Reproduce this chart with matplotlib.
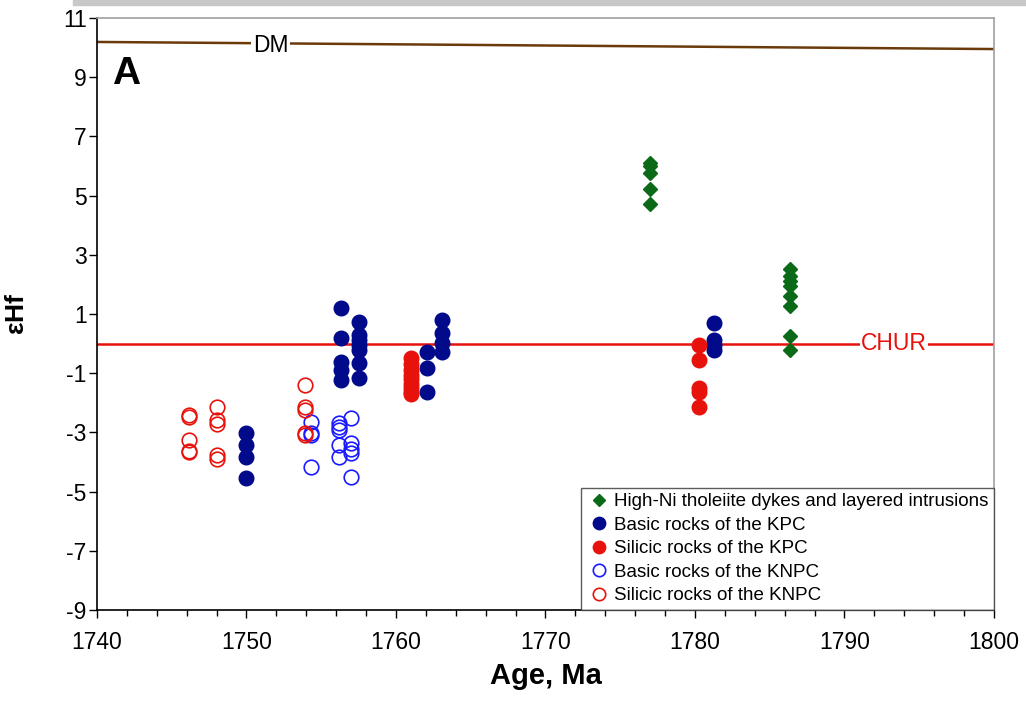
import matplotlib
matplotlib.use("Agg")
import matplotlib.pyplot as plt
from matplotlib.patches import Rectangle
from matplotlib.ticker import MultipleLocator

plt.rcParams['font.family'] = ['Liberation Sans', 'DejaVu Sans']
plt.rcParams['axes.unicode_minus'] = False

# ---- data ----
hini_age = [1777.0, 1777.0, 1777.0, 1777.0, 1777.0,
            1786.35, 1786.35, 1786.35, 1786.35, 1786.35, 1786.35, 1786.35, 1786.35]
hini_ehf = [6.09, 6.0, 5.77, 5.22, 4.71,
            2.51, 2.28, 2.11, 1.93, 1.62, 1.27, 0.27, -0.22]

bkpc_age = [1750.0, 1750.0, 1750.0, 1750.0,
            1756.35, 1756.35, 1756.35, 1756.35, 1756.35,
            1757.5, 1757.5, 1757.5, 1757.5, 1757.5, 1757.5, 1757.5,
            1762.05, 1762.05, 1762.05,
            1763.1, 1763.1, 1763.1, 1763.1,
            1781.3, 1781.3, 1781.3, 1781.3]
bkpc_ehf = [-3.03, -3.43, -3.82, -4.55,
            1.19, 0.18, -0.61, -0.89, -1.23,
            0.74, 0.29, 0.12, -0.05, -0.22, -0.67, -1.17,
            -0.27, -0.84, -1.62,
            0.8, 0.35, 0.01, -0.27,
            0.69, 0.12, -0.05, -0.22]

skpc_age = [1761.0] * 9 + [1780.3] * 5
skpc_ehf = [-0.5, -0.7, -0.9, -1.05, -1.2, -1.35, -1.5, -1.62, -1.72,
            -0.05, -0.55, -1.51, -1.63, -2.13]

bknpc_age = [1754.35] * 4 + [1756.2] * 5 + [1757.0] * 5
bknpc_ehf = [-2.64, -3.03, -3.09, -4.16,
             -2.69, -2.81, -2.92, -3.43, -3.82,
             -2.5, -3.35, -3.57, -3.71, -4.52]

sknpc_age = [1746.15] * 5 + [1748.0] * 5 + [1753.9] * 5
sknpc_ehf = [-2.42, -2.47, -3.26, -3.62, -3.68,
             -2.13, -2.58, -2.72, -3.76, -3.9,
             -1.4, -2.14, -2.23, -3.02, -3.09]

dm_age = [1740, 1800]
dm_ehf = [10.19, 9.95]
chur_age = [1740, 1800]
chur_ehf = [0.0, 0.0]

legend_labels = ["High-Ni tholeiite dykes and layered intrusions",
                 "Basic rocks of the KPC",
                 "Silicic rocks of the KPC",
                 "Basic rocks of the KNPC",
                 "Silicic rocks of the KNPC"]

# ---- figure ----
fig = plt.figure(figsize=(10.26, 7.02), dpi=100)
ax = fig.add_axes([0.0945, 0.1311, 0.8743, 0.8433])

fig.patches.append(Rectangle((73 / 1026, 1 - 4.5 / 702), 1 - 73 / 1026, 4.5 / 702,
                             transform=fig.transFigure, color='#c8c8c8', zorder=0))

ax.plot(dm_age, dm_ehf, color='#6b3a0a', lw=1.8, zorder=1)
ax.plot(chur_age, chur_ehf, color='#e8120c', lw=1.8, zorder=1)

ax.text(1751.6, 10.08, "DM", fontsize=16.5, color='black', ha='center', va='center',
        bbox=dict(facecolor='white', edgecolor='none', pad=1.0), zorder=2)
ax.text(1793.3, 0.0, "CHUR", fontsize=16.5, color='#e8120c', ha='center', va='center',
        bbox=dict(facecolor='white', edgecolor='none', pad=1.0), zorder=2)
ax.text(1741.0, 9.1, "A", fontsize=28, fontweight='bold', ha='left', va='center')

ms = 10.5
ax.plot(hini_age, hini_ehf, 'D', color='#0b6a17', ms=7.5, ls='none', label=legend_labels[0], zorder=4)
ax.plot(bkpc_age, bkpc_ehf, 'o', color='#000a8a', ms=ms, ls='none', label=legend_labels[1], zorder=4)
ax.plot(skpc_age, skpc_ehf, 'o', color='#e8120c', ms=ms, ls='none', label=legend_labels[2], zorder=4)
ax.plot(bknpc_age, bknpc_ehf, 'o', mfc='none', mec='#1a1aff', mew=1.2, ms=ms, ls='none',
        label=legend_labels[3], zorder=3)
ax.plot(sknpc_age, sknpc_ehf, 'o', mfc='none', mec='#e8120c', mew=1.2, ms=ms, ls='none',
        label=legend_labels[4], zorder=3)

ax.set_xlim(1740, 1800)
ax.set_ylim(-9, 11)
ax.xaxis.set_major_locator(MultipleLocator(10))
ax.xaxis.set_minor_locator(MultipleLocator(2))
ax.set_yticks(list(range(-9, 12, 2)))

ax.tick_params(axis='both', which='major', direction='out', length=6, width=1,
               labelsize=16.5, color='black')
ax.tick_params(axis='x', which='minor', direction='out', length=4, width=1)
ax.tick_params(axis='x', which='major', pad=9)
ax.tick_params(axis='y', which='major', pad=1.5)

ax.spines['left'].set_color('black')
ax.spines['bottom'].set_color('black')
ax.spines['top'].set_color('#a0a0a0')
ax.spines['right'].set_color('#a0a0a0')
for s in ax.spines.values():
    s.set_linewidth(1.2)

ax.set_xlabel("Age, Ma", fontsize=21, fontweight='bold', labelpad=6)
ax.set_ylabel(r"$\mathregular{\varepsilon}$Hf", fontsize=19, fontweight='bold', labelpad=24)

leg = ax.legend(loc='lower right', fontsize=13.5, frameon=True, fancybox=False,
                edgecolor='#333333', borderaxespad=0.0, handletextpad=0.15,
                labelspacing=0.34, borderpad=0.3, handlelength=1.3, markerscale=0.85)
leg.get_frame().set_linewidth(1.0)

fig.savefig("out.png", dpi=100)
